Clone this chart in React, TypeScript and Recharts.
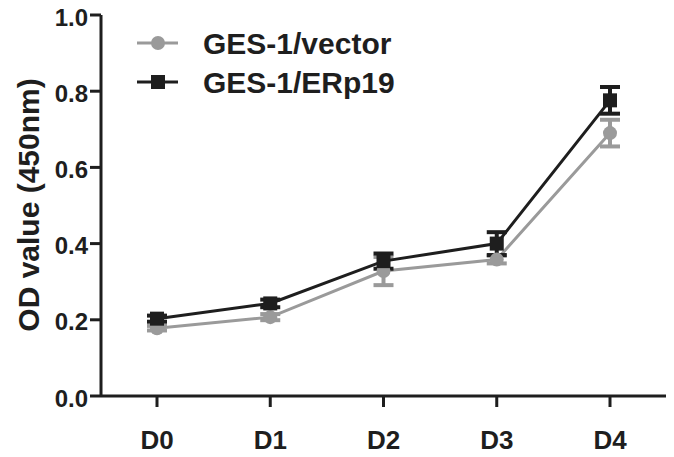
import React from 'react';
import { LineChart, Line, XAxis, YAxis, ErrorBar, Legend } from 'recharts';

const days = ['D0', 'D1', 'D2', 'D3', 'D4'];
const vectorMean = [0.178, 0.207, 0.328, 0.358, 0.69];
const vectorErr = [0.006, 0.008, 0.037, 0.01, 0.035];
const erp19Mean = [0.203, 0.243, 0.354, 0.4, 0.776];
const erp19Err = [0.008, 0.01, 0.02, 0.03, 0.035];
const yTicks = [0, 0.2, 0.4, 0.6, 0.8, 1.0];

const GRAY = '#9a9a9a';
const BLACK = '#1e1e1e';
const FONT = '"Liberation Sans", Arial, sans-serif';

const data = days.map((d, i) => ({
  day: d,
  vector: vectorMean[i],
  vectorErr: vectorErr[i],
  erp19: erp19Mean[i],
  erp19Err: erp19Err[i],
}));

const SquareDot = (props: any) => {
  const { cx, cy } = props;
  if (cx == null || cy == null) return null;
  return <rect x={cx - 7} y={cy - 7} width={14} height={14} fill={BLACK} />;
};

const LegendBox = () => (
  <svg width={300} height={80} style={{ display: 'block' }}>
    <g>
      <line x1={7} y1={18} x2={48} y2={18} stroke={GRAY} strokeWidth={3} />
      <circle cx={28} cy={18} r={7} fill={GRAY} />
      <text x={73} y={18} dominantBaseline="central" fontFamily={FONT} fontWeight="bold" fontSize={30} fill={BLACK}>
        GES-1/vector
      </text>
    </g>
    <g>
      <line x1={7} y1={57} x2={48} y2={57} stroke={BLACK} strokeWidth={3} />
      <rect x={21} y={50} width={14} height={14} fill={BLACK} />
      <text x={73} y={57} dominantBaseline="central" fontFamily={FONT} fontWeight="bold" fontSize={30} fill={BLACK}>
        GES-1/ERp19
      </text>
    </g>
  </svg>
);

const YLabel = () => (
  <text
    x={28}
    y={205}
    transform="rotate(-90, 28, 205)"
    textAnchor="middle"
    dominantBaseline="central"
    fontFamily={FONT}
    fontWeight="bold"
    fontSize={30}
    fill={BLACK}
  >
    OD value (450nm)
  </text>
);

export default function App() {
  return (
    <div style={{ position: 'absolute', left: 0, top: 0, width: 674, height: 457, background: '#fff' }}>
      <LineChart width={674} height={457} data={data} margin={{ top: 15, right: 8, bottom: 0, left: 0 }}>
        <XAxis
          dataKey="day"
          height={61}
          padding={{ left: 56, right: 56 }}
          axisLine={{ stroke: BLACK, strokeWidth: 3 }}
          tickLine={{ stroke: BLACK, strokeWidth: 3 }}
          tickSize={11}
          tick={{ fill: BLACK, fontSize: 26, fontWeight: 'bold', fontFamily: FONT, dy: 22 }}
        />
        <YAxis
          width={101}
          domain={[0, 1]}
          ticks={yTicks}
          interval={0}
          tickFormatter={(v: number) => v.toFixed(1)}
          axisLine={{ stroke: BLACK, strokeWidth: 3 }}
          tickLine={{ stroke: BLACK, strokeWidth: 3 }}
          tickSize={11}
          tick={{ fill: BLACK, fontSize: 24, fontWeight: 'bold', fontFamily: FONT, dy: 2 }}
          label={<YLabel />}
        />
        <Legend
          layout="vertical"
          align="center"
          verticalAlign="middle"
          wrapperStyle={{ position: 'absolute', left: 130, top: 25, width: 300 }}
          content={<LegendBox />}
        />
        <Line
          type="linear"
          dataKey="vector"
          stroke={GRAY}
          strokeWidth={3}
          dot={{ r: 7, fill: GRAY, stroke: 'none' }}
          activeDot={false}
          isAnimationActive={false}
        >
          <ErrorBar dataKey="vectorErr" direction="y" width={10} stroke={GRAY} strokeWidth={4} />
        </Line>
        <Line
          type="linear"
          dataKey="erp19"
          stroke={BLACK}
          strokeWidth={3}
          dot={<SquareDot />}
          activeDot={false}
          isAnimationActive={false}
        >
          <ErrorBar dataKey="erp19Err" direction="y" width={10} stroke={BLACK} strokeWidth={4} />
        </Line>
      </LineChart>
    </div>
  );
}
